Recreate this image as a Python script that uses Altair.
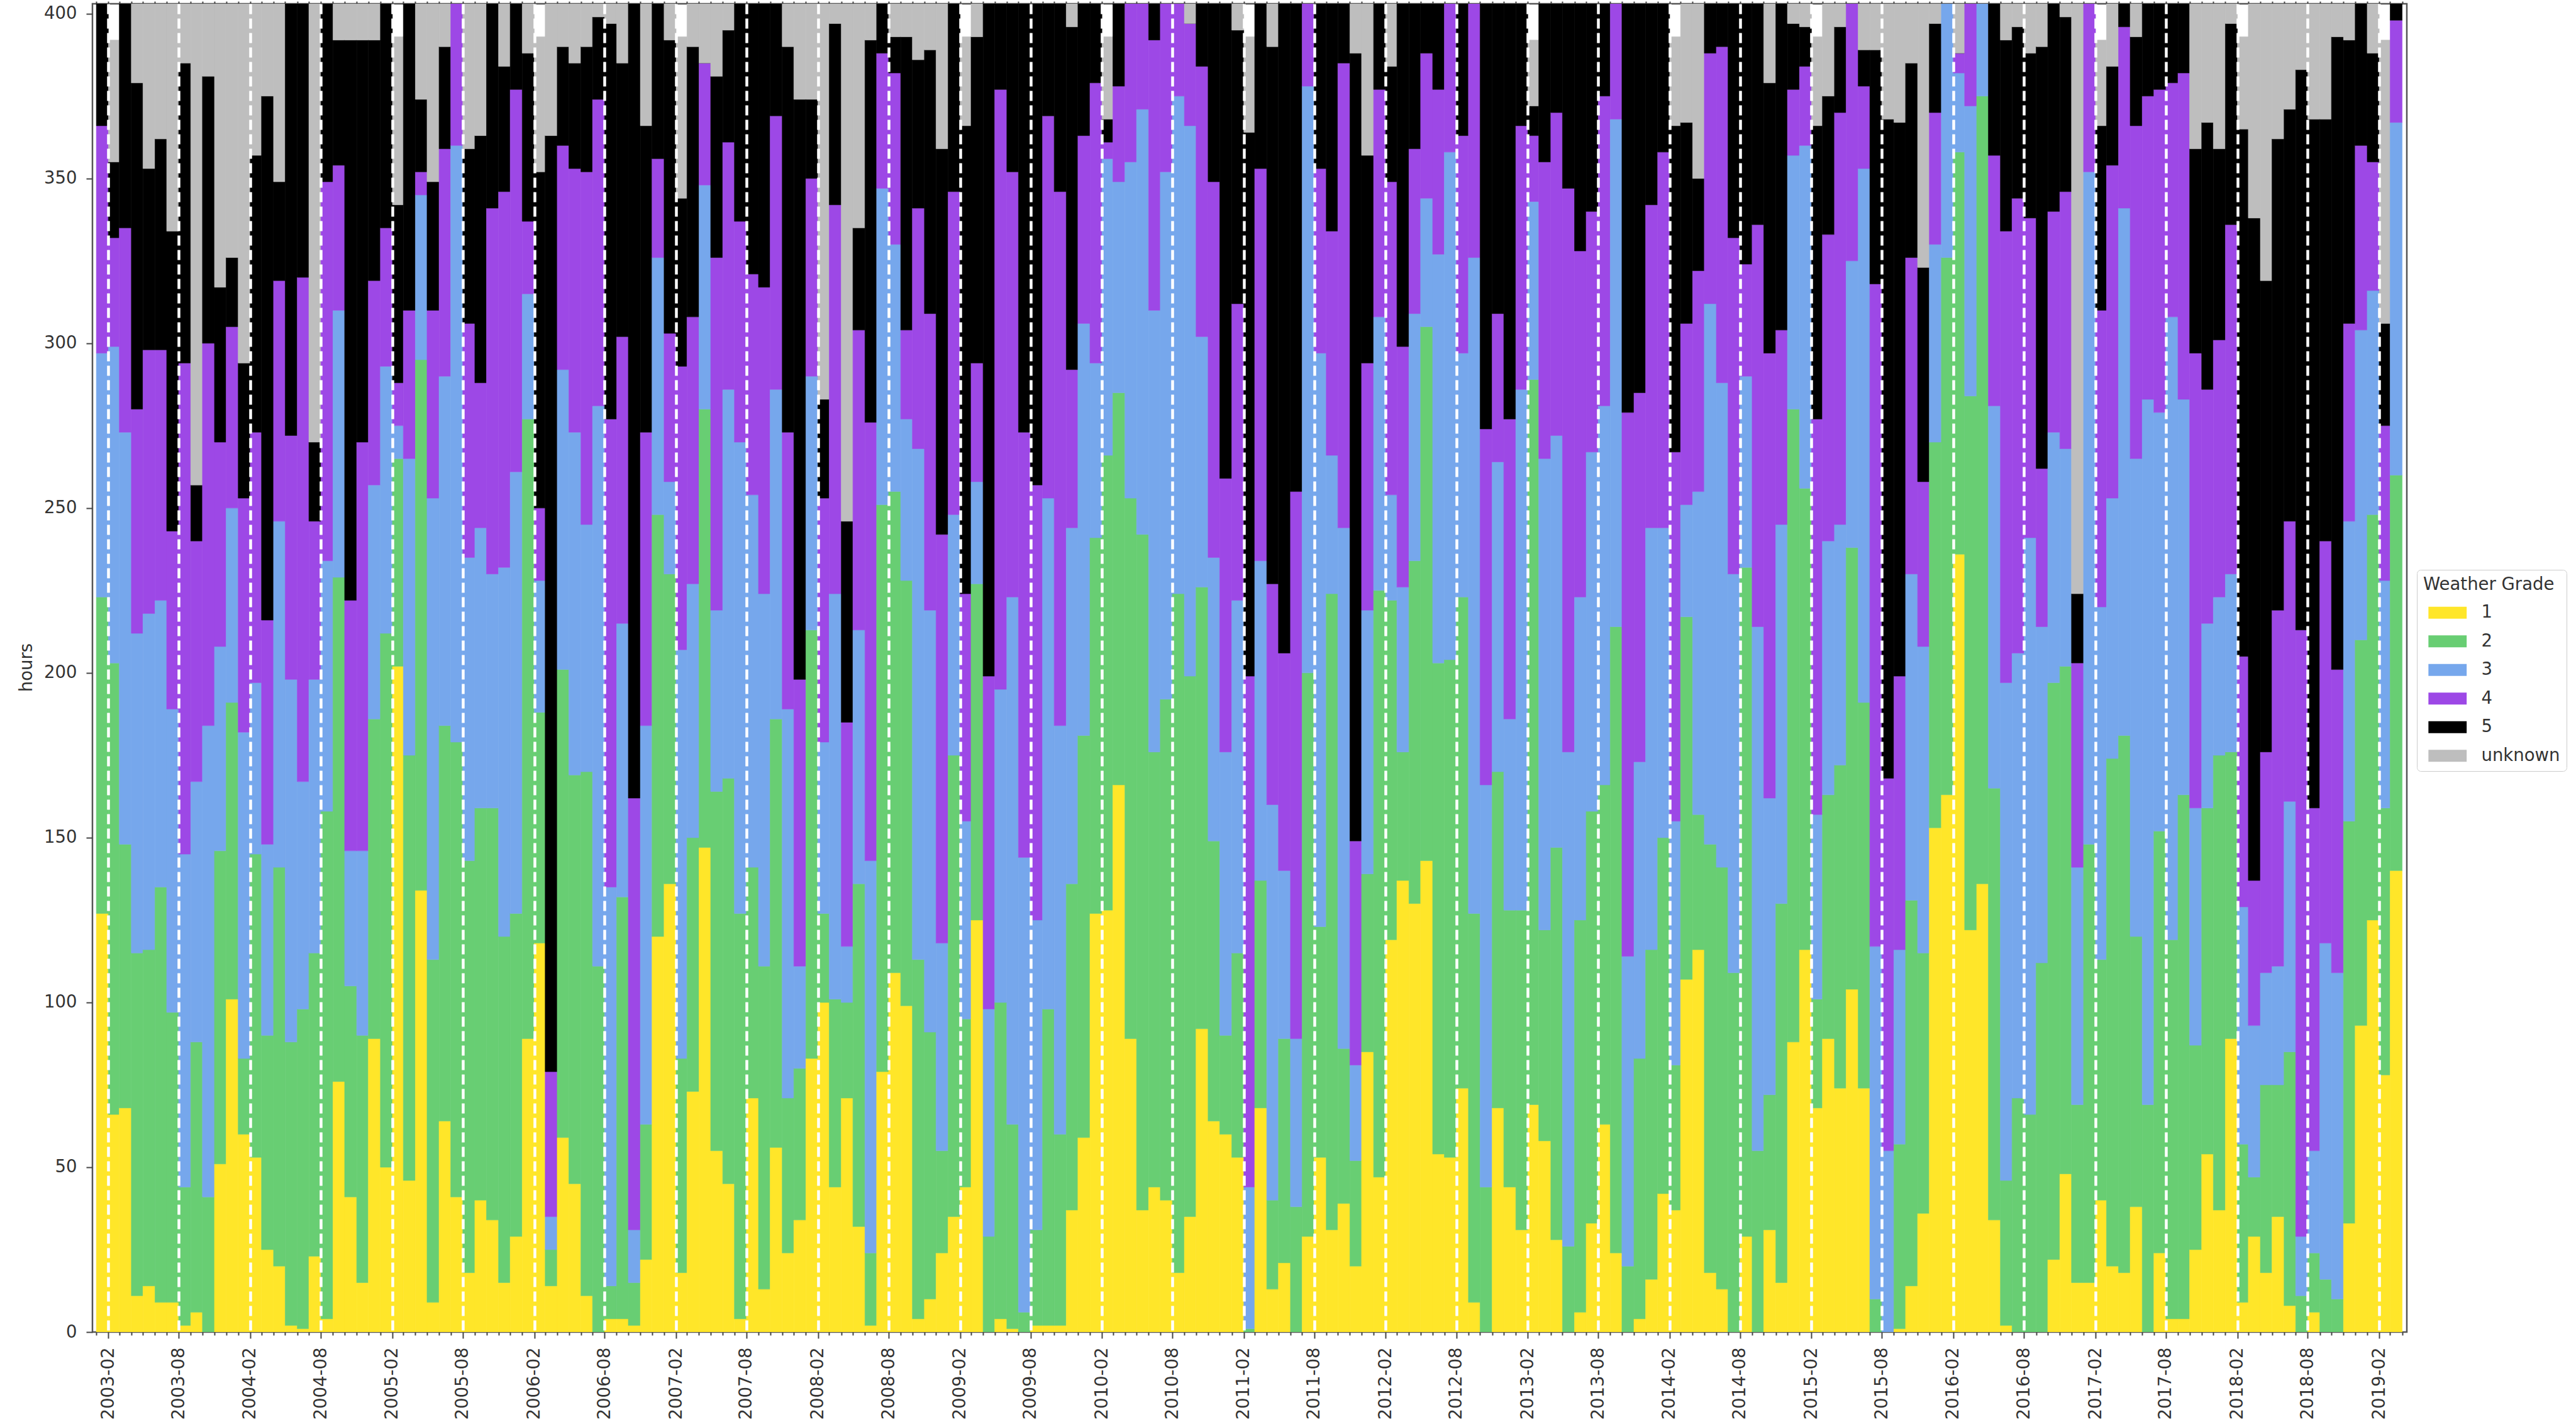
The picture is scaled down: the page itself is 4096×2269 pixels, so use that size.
import altair as alt
import pandas as pd

# Cumulative top (hours) of each grade's band, one value per month 2003-01 .. 2019-03
top_1 = [127, 66, 68, 11, 14, 9, 9, 2, 6, 0,
         51, 101, 60, 53, 25, 20, 2, 1, 23, 4,
         76, 41, 15, 89, 50, 202, 46, 134, 9, 64,
         41, 18, 40, 34, 15, 29, 89, 118, 14, 59,
         45, 11, 0, 4, 4, 2, 22, 120, 136, 18,
         73, 147, 55, 45, 4, 71, 13, 56, 24, 34,
         83, 100, 44, 71, 32, 2, 79, 109, 99, 4,
         10, 24, 35, 44, 125, 0, 4, 1, 0, 2,
         2, 2, 37, 59, 127, 128, 166, 89, 37, 44,
         40, 18, 35, 92, 64, 60, 53, 0, 68, 13,
         21, 0, 29, 53, 31, 39, 20, 85, 47, 119,
         137, 130, 143, 54, 53, 74, 9, 0, 68, 44,
         31, 69, 58, 28, 0, 6, 33, 63, 24, 0,
         4, 16, 42, 37, 107, 116, 18, 13, 0, 29,
         0, 31, 15, 88, 116, 68, 89, 74, 104, 74,
         0, 0, 1, 14, 36, 153, 163, 236, 122, 136,
         34, 2, 0, 0, 0, 22, 48, 15, 15, 40,
         20, 18, 38, 0, 24, 4, 4, 25, 54, 37,
         89, 9, 29, 18, 35, 8, 0, 6, 0, 0,
         33, 93, 125, 78, 140]

top_2 = [223, 203, 148, 115, 116, 135, 97, 44, 88, 41,
         146, 191, 83, 145, 90, 141, 88, 98, 115, 158,
         229, 105, 90, 186, 212, 265, 175, 295, 113, 184,
         179, 143, 159, 159, 120, 127, 277, 188, 25, 201,
         169, 170, 111, 14, 132, 15, 63, 248, 230, 83,
         150, 280, 164, 168, 127, 141, 111, 186, 71, 80,
         213, 127, 101, 100, 136, 24, 251, 255, 228, 113,
         91, 55, 175, 95, 227, 29, 100, 63, 6, 31,
         98, 60, 136, 181, 241, 266, 285, 253, 242, 176,
         192, 224, 199, 226, 149, 90, 115, 1, 137, 40,
         89, 38, 200, 123, 224, 86, 52, 139, 225, 222,
         176, 234, 305, 203, 204, 223, 127, 44, 170, 128,
         128, 289, 122, 147, 26, 125, 158, 166, 214, 20,
         83, 116, 150, 81, 217, 157, 148, 141, 109, 232,
         55, 72, 130, 280, 256, 101, 163, 172, 238, 191,
         10, 0, 57, 131, 115, 270, 326, 358, 284, 375,
         165, 46, 71, 66, 112, 197, 202, 69, 148, 113,
         174, 181, 120, 69, 152, 119, 163, 87, 159, 175,
         176, 57, 47, 75, 75, 85, 11, 24, 16, 10,
         155, 210, 248, 159, 260]

top_3 = [297, 299, 273, 212, 218, 222, 189, 145, 167, 184,
         208, 250, 182, 197, 148, 246, 198, 167, 198, 234,
         310, 146, 146, 257, 293, 275, 265, 345, 253, 290,
         360, 235, 244, 230, 232, 261, 315, 228, 35, 292,
         273, 245, 281, 135, 215, 31, 184, 326, 258, 207,
         227, 348, 219, 286, 270, 254, 224, 286, 189, 111,
         290, 179, 224, 117, 213, 143, 347, 330, 277, 268,
         219, 118, 248, 155, 258, 98, 195, 223, 144, 125,
         253, 184, 244, 306, 294, 356, 349, 355, 371, 310,
         352, 375, 366, 302, 235, 176, 222, 44, 234, 160,
         140, 89, 378, 297, 266, 244, 81, 219, 308, 254,
         226, 309, 344, 327, 358, 297, 326, 166, 264, 186,
         286, 343, 265, 272, 176, 223, 267, 281, 368, 114,
         173, 244, 244, 155, 251, 255, 312, 288, 230, 290,
         214, 162, 245, 357, 360, 157, 240, 245, 325, 353,
         117, 55, 116, 230, 208, 330, 405, 382, 372, 405,
         281, 197, 206, 241, 214, 273, 268, 141, 352, 220,
         253, 341, 265, 283, 279, 308, 283, 159, 215, 223,
         230, 129, 93, 109, 111, 161, 29, 55, 118, 109,
         246, 304, 316, 228, 367]

top_4 = [366, 332, 335, 280, 298, 298, 243, 294, 240, 300,
         270, 305, 253, 273, 216, 319, 272, 320, 246, 349,
         354, 222, 270, 319, 335, 288, 310, 352, 310, 359,
         405, 306, 288, 341, 346, 377, 337, 250, 79, 360,
         353, 352, 374, 277, 302, 162, 273, 356, 303, 293,
         308, 385, 326, 361, 337, 321, 317, 369, 273, 198,
         350, 253, 342, 185, 304, 276, 388, 382, 304, 341,
         309, 242, 346, 224, 294, 199, 377, 352, 273, 257,
         369, 346, 292, 363, 379, 361, 378, 405, 405, 392,
         405, 405, 397, 384, 349, 259, 312, 199, 353, 227,
         206, 255, 405, 353, 334, 385, 149, 294, 377, 349,
         299, 359, 388, 377, 405, 363, 405, 274, 309, 277,
         366, 363, 355, 370, 347, 328, 340, 375, 405, 279,
         285, 342, 358, 267, 306, 322, 388, 390, 332, 324,
         336, 297, 304, 377, 384, 277, 333, 370, 405, 378,
         318, 168, 199, 326, 258, 370, 405, 388, 405, 405,
         357, 334, 344, 338, 262, 340, 346, 203, 405, 310,
         354, 396, 366, 375, 377, 379, 382, 297, 286, 301,
         336, 205, 137, 176, 219, 246, 213, 159, 240, 201,
         306, 360, 355, 275, 398]

top_5 = [405, 355, 405, 379, 353, 362, 334, 385, 257, 381,
         317, 326, 294, 357, 375, 349, 405, 405, 270, 405,
         392, 392, 392, 392, 405, 342, 405, 374, 349, 390,
         405, 359, 363, 405, 384, 405, 388, 352, 363, 390,
         385, 390, 399, 397, 385, 405, 366, 405, 392, 344,
         390, 385, 381, 395, 405, 405, 405, 405, 390, 374,
         374, 283, 397, 246, 335, 392, 405, 393, 393, 386,
         389, 359, 405, 366, 393, 405, 405, 405, 405, 405,
         405, 405, 396, 405, 405, 368, 405, 405, 405, 405,
         405, 405, 397, 405, 405, 405, 395, 364, 405, 390,
         405, 405, 405, 405, 405, 405, 388, 357, 405, 384,
         405, 405, 405, 405, 405, 405, 405, 405, 405, 405,
         405, 372, 405, 405, 405, 405, 405, 405, 405, 405,
         405, 405, 405, 366, 367, 350, 405, 405, 405, 405,
         405, 379, 405, 397, 396, 366, 375, 396, 405, 389,
         389, 368, 367, 385, 323, 397, 405, 388, 405, 405,
         405, 392, 396, 388, 390, 405, 399, 224, 405, 366,
         384, 405, 393, 405, 405, 405, 405, 359, 367, 359,
         397, 365, 338, 319, 362, 371, 383, 368, 368, 393,
         392, 405, 388, 306, 405]

top_unknown = [405, 392, 405, 405, 405, 405, 405, 405, 405, 405,
               405, 405, 405, 405, 405, 405, 405, 405, 405, 405,
               405, 405, 405, 405, 405, 393, 405, 405, 405, 405,
               405, 405, 405, 405, 405, 405, 405, 393, 405, 405,
               405, 405, 405, 405, 405, 405, 405, 405, 405, 393,
               405, 405, 405, 405, 405, 405, 405, 405, 405, 405,
               405, 405, 405, 405, 405, 405, 405, 405, 405, 405,
               405, 405, 405, 393, 405, 405, 405, 405, 405, 405,
               405, 405, 405, 405, 405, 393, 405, 405, 405, 405,
               405, 405, 405, 405, 405, 405, 405, 393, 405, 405,
               405, 405, 405, 405, 405, 405, 405, 405, 405, 405,
               405, 405, 405, 405, 405, 405, 405, 405, 405, 405,
               405, 392, 405, 405, 405, 405, 405, 405, 405, 405,
               405, 405, 405, 393, 405, 405, 405, 405, 405, 405,
               405, 405, 405, 405, 405, 393, 405, 405, 405, 405,
               405, 405, 405, 405, 405, 405, 405, 405, 405, 405,
               405, 405, 405, 405, 405, 405, 405, 405, 405, 392,
               405, 405, 405, 405, 405, 405, 405, 405, 405, 405,
               405, 393, 405, 405, 405, 405, 405, 405, 405, 405,
               405, 405, 405, 392, 405]

grades = ["1", "2", "3", "4", "5", "unknown"]
colors = ["#FFE629", "#68CE73", "#76A7EC", "#9D48E6", "#000000", "#BEBEBE"]

months = pd.date_range("2003-01-01", periods=len(top_1), freq="MS")
ends = months + pd.offsets.MonthBegin(1)

tops = [top_1, top_2, top_3, top_4, top_5, top_unknown]
rows = []
for i, (s, e) in enumerate(zip(months, ends)):
    prev = 0
    for g, t in zip(grades, tops):
        hi = max(prev, t[i])
        rows.append({"start": s.strftime("%Y-%m-%d"), "end": e.strftime("%Y-%m-%d"),
                     "grade": g, "lo": prev, "hi": hi})
        prev = hi
df = pd.DataFrame(rows)

tick_dates = pd.date_range("2003-01-01", "2019-04-01", freq="MS")
tick_vals = [alt.DateTime(year=int(d.year), month=int(d.month), date=1, utc=True) for d in tick_dates]
ticks_df = pd.DataFrame({"start": [d.strftime("%Y-%m-%d") for d in tick_dates]})

x_scale = alt.Scale(type="utc",
                    domain=[alt.DateTime(year=2002, month=12, date=22, utc=True),
                            alt.DateTime(year=2019, month=4, date=13, utc=True)])

is_major = "utcmonth(datum.value) == 1 || utcmonth(datum.value) == 7"
FONT = "DejaVu Sans"
FS = 27.5
TXT = "#333333"

bars = alt.Chart(df).mark_bar(strokeWidth=0.6, clip=True).encode(
    x=alt.X("start:T", scale=x_scale,
            axis=alt.Axis(values=tick_vals,
                          labelExpr=f"({is_major}) ? utcFormat(datum.value, '%Y-%m') : ''",
                          labelAngle=270, labelOverlap=False, labelFlush=False, labelBound=False,
                          labelFont=FONT, labelFontSize=FS, labelColor=TXT, labelPadding=14,
                          tickSize={"condition": {"test": is_major, "value": 10}, "value": 5},
                          tickColor="#444444", tickWidth=2,
                          grid=True, gridColor="white", gridWidth=4.5, gridDash=[16, 7],
                          gridOpacity={"condition": {"test": is_major, "value": 1}, "value": 0},
                          domain=False, title=None, zindex=1)),
    x2=alt.X2("end:T"),
    y=alt.Y("lo:Q", scale=alt.Scale(domain=[0, 403], nice=False, zero=True),
            axis=alt.Axis(values=list(range(0, 401, 50)), grid=False, tickSize=10,
                          tickColor="#444444", tickWidth=2, domain=False,
                          labelFont=FONT, labelFontSize=FS, labelColor=TXT, labelPadding=15,
                          title="hours", titleFont=FONT, titleFontSize=FS, titleFontWeight="normal",
                          titleColor=TXT, titleAngle=270, titleX=-105, titleY=1055,
                          titleAlign="center", titleBaseline="middle")),
    y2=alt.Y2("hi:Q"),
    color=alt.Color("grade:N", scale=alt.Scale(domain=grades, range=colors),
                    legend=alt.Legend(title="Weather Grade", orient="none", legendX=3696, legendY=900,
                                      direction="vertical",
                                      symbolType="M-3.2,-1H3.2V1H-3.2Z", symbolSize=361,
                                      symbolStrokeWidth=0, symbolOpacity=1, symbolOffset=25,
                                      labelFont=FONT, labelFontSize=FS, labelColor=TXT, labelOffset=40,
                                      labelLimit=400, titleLimit=400,
                                      titleFont=FONT, titleFontSize=FS, titleFontWeight="normal",
                                      titleColor=TXT, titlePadding=17, rowPadding=16.5,
                                      padding=10, strokeColor="#cccccc", fillColor="white",
                                      cornerRadius=6)),
    stroke=alt.Stroke("grade:N", scale=alt.Scale(domain=grades, range=colors), legend=None),
)

top_ticks = alt.Chart(ticks_df).mark_tick(opacity=0).encode(
    x=alt.X("start:T", scale=x_scale,
            axis=alt.Axis(orient="top", values=tick_vals, labels=False, tickSize=4,
                          tickColor="#444444", tickWidth=2, domain=False, grid=False, title=None))
)

chart = alt.layer(bars, top_ticks).resolve_axis(x="independent").properties(
    width=3680, height=2112,
    autosize=alt.AutoSizeParams(type="none"),
    padding={"left": 147, "top": 6, "right": 269, "bottom": 151},
    background="white",
).configure_view(stroke="#555555", strokeWidth=2.5)

chart.save("out.html", embed_options={"renderer": "svg", "actions": False})
